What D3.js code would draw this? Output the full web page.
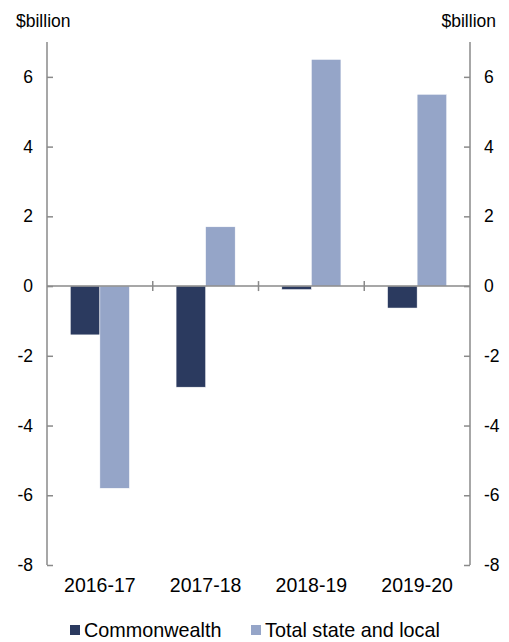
<!DOCTYPE html>
<html>
<head>
<meta charset="utf-8">
<script src="https://cdn.jsdelivr.net/npm/d3@7"></script>
<style>
  html, body { margin: 0; padding: 0; background: #fff; }
  svg { display: block; font-family: "Liberation Sans", Arial, sans-serif; }
</style>
</head>
<body>
<svg id="chart" width="509" height="642"></svg>
<script>
// Budget balance by level of government, $billion
const years = ["2016-17", "2017-18", "2018-19", "2019-20"];
const commonwealth = [-1.4, -2.9, -0.1, -0.63];
const stateLocal = [-5.8, 1.7, 6.5, 5.5];
const seriesNames = ["Commonwealth", "Total state and local"];
const seriesColors = ["#2b3a5f", "#95a5c8"];
const yTicks = [-8, -6, -4, -2, 0, 2, 4, 6];

const svg = d3.select("#chart");
const plotLeft = 47, plotRight = 470, plotTop = 42, plotBottom = 565;
const axisColor = "#8a8a8a";

const y = d3.scaleLinear().domain([-8, 7]).range([plotBottom, plotTop]);
const x = d3.scaleBand().domain(years).range([plotLeft, plotRight]).paddingInner(0).paddingOuter(0);
const inner = d3.scaleBand().domain(seriesNames).range([0, x.bandwidth()]).paddingOuter(0.79).paddingInner(0);

const rows = years.map((yr, i) => ({ year: yr, values: [commonwealth[i], stateLocal[i]] }));

// bars
const groups = svg.append("g").selectAll("g").data(rows).join("g")
  .attr("transform", d => `translate(${x(d.year)},0)`);
groups.selectAll("rect").data(d => d.values.map((v, j) => ({ v, name: seriesNames[j], j })))
  .join("rect")
  .attr("x", d => inner(d.name))
  .attr("width", inner.bandwidth())
  .attr("y", d => y(Math.max(0, d.v)))
  .attr("height", d => Math.abs(y(d.v) - y(0)))
  .attr("fill", d => seriesColors[d.j])
  .attr("stroke", "#ffffff")
  .attr("stroke-width", 0.5);

// left axis
const leftAxis = d3.axisRight(y).tickValues(yTicks).tickSize(6).tickFormat("");
const gl = svg.append("g").attr("transform", `translate(${plotLeft},0)`).call(leftAxis);
gl.select(".domain").attr("d", `M0,${plotTop}V${plotBottom}`);
// right axis
const rightAxis = d3.axisLeft(y).tickValues(yTicks).tickSize(6).tickFormat("");
const gr = svg.append("g").attr("transform", `translate(${plotRight},0)`).call(rightAxis);
gr.select(".domain").attr("d", `M0,${plotTop}V${plotBottom}`);
[gl, gr].forEach(g => {
  g.selectAll(".domain, line").attr("stroke", axisColor).attr("stroke-width", 1.5);
});

// tick labels
const labelSize = 17.5;
svg.append("g").selectAll("text").data(yTicks).join("text")
  .attr("x", plotLeft - 14).attr("y", d => y(d)).attr("dy", "0.35em")
  .attr("text-anchor", "end").attr("font-size", labelSize).attr("fill", "#000")
  .text(d => d);
svg.append("g").selectAll("text").data(yTicks).join("text")
  .attr("x", plotRight + 14).attr("y", d => y(d)).attr("dy", "0.35em")
  .attr("text-anchor", "start").attr("font-size", labelSize).attr("fill", "#000")
  .text(d => d);

// units
svg.append("text").attr("x", 16).attr("y", 27).attr("font-size", labelSize).text("$billion");
svg.append("text").attr("x", 496).attr("y", 27).attr("text-anchor", "end").attr("font-size", labelSize).text("$billion");

// zero line with category separators
const xAxis = d3.axisBottom(x).tickSize(0).tickFormat("");
const gx = svg.append("g").attr("transform", `translate(0,${y(0)})`).call(xAxis);
gx.select(".domain").attr("d", `M${plotLeft},0H${plotRight}`).attr("stroke", axisColor).attr("stroke-width", 1.5);
gx.selectAll("line.sep").data(years.slice(1)).join("line").attr("class", "sep")
  .attr("x1", d => x(d)).attr("x2", d => x(d)).attr("y1", -5).attr("y2", 5)
  .attr("stroke", axisColor).attr("stroke-width", 1.5);

// category labels
svg.append("g").selectAll("text").data(years).join("text")
  .attr("x", d => x(d) + x.bandwidth() / 2).attr("y", 592)
  .attr("text-anchor", "middle").attr("font-size", 19.5).text(d => d);

// legend
const legendItems = [{ name: seriesNames[0], x: 70 }, { name: seriesNames[1], x: 251 }];
const lg = svg.append("g").selectAll("g").data(legendItems).join("g")
  .attr("transform", d => `translate(${d.x},0)`);
lg.append("rect").attr("x", 0).attr("y", 625).attr("width", 10).attr("height", 10)
  .attr("fill", (d, i) => seriesColors[i]);
lg.append("text").attr("x", 14).attr("y", 637).attr("font-size", 19.8).text(d => d.name);
</script>
</body>
</html>
